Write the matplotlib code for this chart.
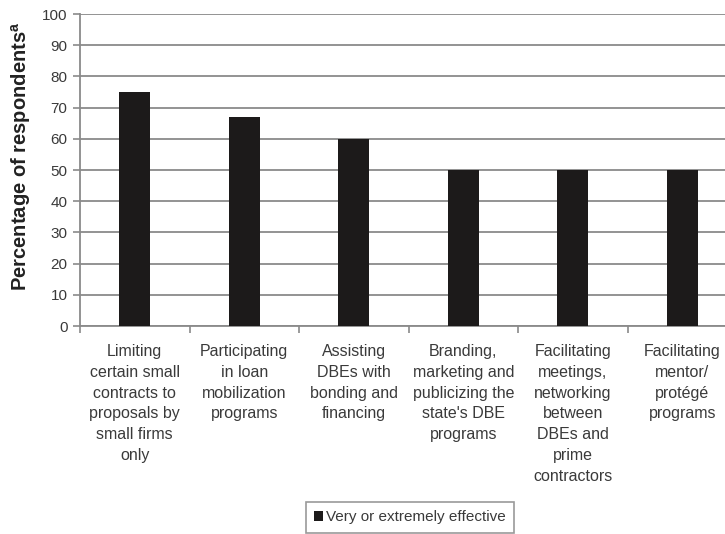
import matplotlib.pyplot as plt
import numpy as np

plt.rcParams['font.family'] = ['Liberation Sans', 'DejaVu Sans']

categories = [
    'Limiting\ncertain small\ncontracts to\nproposals by\nsmall firms\nonly',
    'Participating\nin loan\nmobilization\nprograms',
    'Assisting\nDBEs with\nbonding and\nfinancing',
    'Branding,\nmarketing and\npublicizing the\nstate\'s DBE\nprograms',
    'Facilitating\nmeetings,\nnetworking\nbetween\nDBEs and\nprime\ncontractors',
    'Facilitating\nmentor/\nprotégé\nprograms',
]
effective = [75, 67, 60, 50, 50, 50]
series_label = 'Very or extremely effective'
yticks = list(range(0, 101, 10))

text_col = '#3a3a3a'
grid_col = '#8a8a8a'

fig = plt.figure(figsize=(7.25, 5.34), dpi=100)
fig.patch.set_facecolor('white')
# plot area runs a little past the right edge of the figure
ax = fig.add_axes([80 / 725, 1 - 326 / 534, 657 / 725, 312 / 534])

x = np.arange(len(categories))
ax.bar(x, effective, width=0.28, color='#1c1a1a', zorder=3, label=series_label)

ax.set_xlim(-0.5, len(categories) - 0.5)
ax.set_ylim(0, 100)
ax.set_yticks(yticks)
ax.set_yticklabels([str(v) for v in yticks], fontsize=11, color=text_col)
ax.yaxis.grid(True, color=grid_col, linewidth=1.3, zorder=0)
ax.tick_params(axis='y', length=5, color=grid_col, width=1.2, pad=4)

# category boundaries get the tick marks, labels sit in the middle
ax.set_xticks(np.arange(len(categories) + 1) - 0.5)
ax.set_xticklabels([])
ax.set_xticks(x, minor=True)
ax.set_xticklabels(categories, minor=True, fontsize=11.5, color=text_col,
                   linespacing=1.48, va='top', ha='center')
ax.tick_params(axis='x', which='major', length=5, color=grid_col, width=1.2)
ax.tick_params(axis='x', which='minor', length=0, pad=13)

for side in ['top', 'right']:
    ax.spines[side].set_visible(False)
for side in ['left', 'bottom']:
    ax.spines[side].set_color(grid_col)
    ax.spines[side].set_linewidth(1.3)

ax.set_ylabel(r'Percentage of respondents$^{\mathregular{a}}$', fontsize=14.5,
              fontweight='bold', color='#222222')
ax.yaxis.set_label_coords(-0.072, 0.545)

leg = fig.legend(loc='lower center', bbox_to_anchor=(410 / 725, 0.5 / 534), ncol=1,
                 frameon=True, fancybox=False, fontsize=11, handlelength=0.55,
                 handleheight=0.55, handletextpad=0.2, borderpad=0.55,
                 borderaxespad=0.05, labelcolor=text_col)
leg.get_frame().set_edgecolor('#808080')
leg.get_frame().set_linewidth(1.2)

fig.savefig('out.png', dpi=100)
